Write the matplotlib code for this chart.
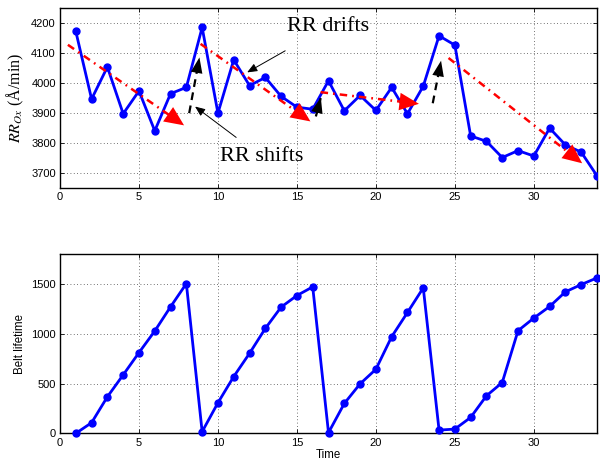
import matplotlib
matplotlib.use('Agg')
import matplotlib.pyplot as plt

# Data
time = list(range(1, 35))
rr_ox = [4172, 3946, 4053, 3897, 3973, 3840, 3964, 3985, 4185, 3899,
         4077, 3991, 4018, 3955, 3919, 3912, 4007, 3907, 3958, 3908,
         3985, 3897, 3989, 4157, 4126, 3823, 3805, 3751, 3774, 3756,
         3849, 3793, 3769, 3690]
belt_lifetime = [0, 107, 367, 587, 810, 1027, 1270, 1503, 17, 307,
                 570, 803, 1053, 1267, 1383, 1470, 7, 300, 497, 643,
                 970, 1213, 1460, 33, 43, 160, 377, 510, 1030, 1157,
                 1273, 1420, 1493, 1560]

# drift arrows (start, tip) in data units
drift_start = [(0.5, 4127), (8.9, 4130), (16.5, 3969), (24.6, 4083)]
drift_tip = [(8.0, 3853), (16.0, 3866), (22.9, 3929), (33.2, 3726)]
# shift arrows
shift_start = [(8.18, 3899), (16.2, 3888), (23.6, 3932)]
shift_tip = [(8.86, 4094), (16.56, 3960), (24.16, 4083)]

plt.rcParams['font.family'] = ['Liberation Sans', 'DejaVu Sans']
plt.rcParams['mathtext.fontset'] = 'stix'

fig = plt.figure(figsize=(6.0, 4.66), dpi=100)
ax1 = fig.add_axes([0.1, 0.597, 0.895, 0.386])
ax2 = fig.add_axes([0.1, 0.070, 0.895, 0.385])

for ax in (ax1, ax2):
    ax.set_xlim(0, 34)
    ax.set_xticks([0, 5, 10, 15, 20, 25, 30])
    ax.grid(True, linestyle=(0, (1, 3)), color='#444444', linewidth=0.6)
    ax.tick_params(direction='in', top=True, right=True, labelsize=8,
                   length=3, width=0.6, pad=3)
    for s in ax.spines.values():
        s.set_linewidth(1.0)

# top panel
ax1.plot(time, rr_ox, '-o', color='blue', lw=2, markersize=5, zorder=3)
ax1.set_ylim(3650, 4250)
ax1.set_yticks([3700, 3800, 3900, 4000, 4100, 4200])
ax1.set_ylabel(r'$RR_{Ox}$ (Å/min)', family='Liberation Serif', fontsize=11.5,
               labelpad=4)

for (x0, y0), (x1, y1) in zip(drift_start, drift_tip):
    f = 0.93
    ax1.plot([x0, x0 + f * (x1 - x0)], [y0, y0 + f * (y1 - y0)],
             linestyle=(0, (3, 2, 0.7, 2)), color='red', lw=1.8, zorder=4)
    ax1.annotate('', xy=(x1, y1), xytext=(x0 + 0.85 * (x1 - x0), y0 + 0.85 * (y1 - y0)),
                 arrowprops=dict(arrowstyle='-|>,head_length=1.0,head_width=0.45',
                                 color='red', lw=0, mutation_scale=14), zorder=5)

for (x0, y0), (x1, y1) in zip(shift_start, shift_tip):
    f = 0.85
    ax1.plot([x0, x0 + f * (x1 - x0)], [y0, y0 + f * (y1 - y0)],
             linestyle=(0, (3.5, 2.5)), color='black', lw=1.6, zorder=4)
    ax1.annotate('', xy=(x1, y1), xytext=(x0 + 0.7 * (x1 - x0), y0 + 0.7 * (y1 - y0)),
                 arrowprops=dict(arrowstyle='-|>,head_length=0.8,head_width=0.3',
                                 color='black', lw=0, mutation_scale=14), zorder=5)

ax1.annotate('RR drifts', xy=(11.85, 4035), xytext=(17.0, 4189),
             ha='center', va='center', fontsize=16, family='Liberation Serif',
             arrowprops=dict(arrowstyle='-|>,head_length=0.6,head_width=0.25',
                             color='black', lw=0.7, shrinkA=22, shrinkB=0,
                             mutation_scale=10),
             bbox=dict(fc='none', ec='none', pad=0), zorder=6)
ax1.annotate('RR shifts', xy=(8.55, 3921), xytext=(12.8, 3753),
             ha='center', va='center', fontsize=16, family='Liberation Serif',
             arrowprops=dict(arrowstyle='-|>,head_length=0.6,head_width=0.25',
                             color='black', lw=0.7, shrinkA=12, shrinkB=0,
                             mutation_scale=10),
             bbox=dict(fc='none', ec='none', pad=0), zorder=6)

# bottom panel
ax2.plot(time, belt_lifetime, '-o', color='blue', lw=2, markersize=5,
         zorder=3, clip_on=False)
ax2.set_ylim(0, 1800)
ax2.set_yticks([0, 500, 1000, 1500])
ax2.set_ylabel('Belt lifetime', fontsize=8.3)
ax2.set_xlabel('Time', fontsize=8.3, labelpad=1)

fig.savefig('out.png', dpi=100)
